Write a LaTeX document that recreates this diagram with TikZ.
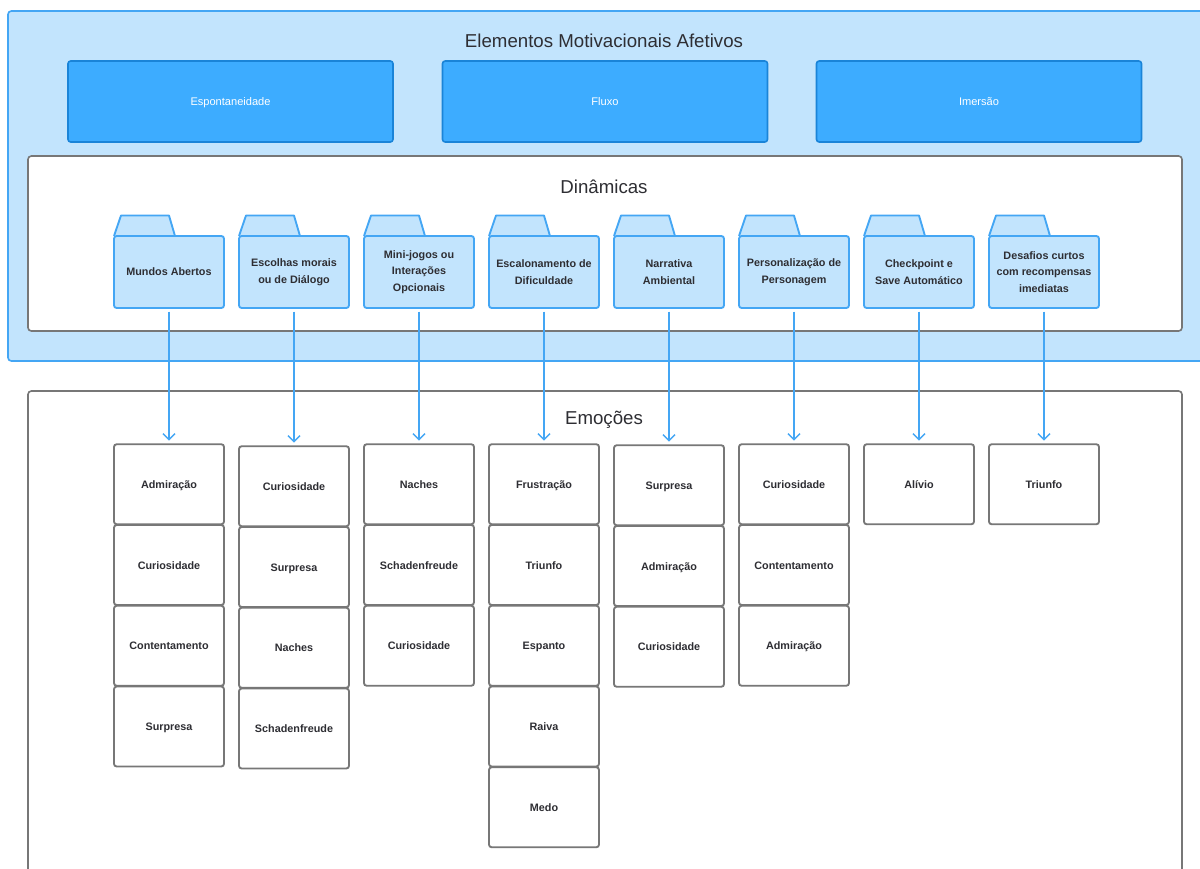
\documentclass[tikz,border=0pt]{standalone}
\usepackage{fontspec}
\setmainfont{Liberation Sans}
\usetikzlibrary{arrows.meta}
\definecolor{panelblue}{HTML}{C2E4FD}
\definecolor{edgeblue}{HTML}{44A6F4}
\definecolor{cardblue}{HTML}{3DACFF}
\definecolor{cardedge}{HTML}{1A84D8}
\definecolor{frame}{HTML}{777777}
\definecolor{ink}{HTML}{2E2E33}
\begin{document}
\begin{tikzpicture}[x=0.75pt,y=-0.75pt,
  panel/.style={draw=edgeblue,fill=panelblue,line width=1.2pt,rounded corners=2.5pt},
  frameset/.style={draw=frame,fill=white,line width=1.2pt,rounded corners=2.5pt},
  title/.style={text=ink,font=\fontsize{14}{16}\selectfont},
  card/.style={draw=cardedge,fill=cardblue,line width=1.2pt,rounded corners=2pt,
    minimum width=243.75pt,minimum height=60.75pt,text=white,
    text height=6pt,text depth=0pt,
    font=\fontsize{8.3}{10}\selectfont},
  folder/.style={draw=edgeblue,fill=panelblue,line width=1.4pt,rounded corners=2pt,
    minimum width=82.5pt,minimum height=54pt,inner sep=1pt,align=center,text=ink,
    font=\bfseries\fontsize{8.1}{12.4}\selectfont},
  foldertab/.style={draw=edgeblue,fill=panelblue,line width=1.4pt,line join=round},
  emotion/.style={draw=frame,fill=white,line width=1.4pt,rounded corners=2pt,
    minimum width=82.5pt,minimum height=60pt,text=ink,
    text height=6pt,text depth=0pt,
    font=\bfseries\fontsize{8.1}{10}\selectfont},
  flow/.style={draw=edgeblue,line width=1.1pt,shorten <=2pt,shorten >=2pt,
    -{Straight Barb[length=4.5pt,width=9pt,line width=1.1pt]}}]
\useasboundingbox (0,0) rectangle (1200,868);
\clip (0,0) rectangle (1200,868);

% outer panel with the affective elements
\path[panel] (8,11) rectangle (1215,361);
\node[title] (ttop) at (604,41) {Elementos Motivacionais Afetivos};
\node[card] (c1) at (230.5,101.5) {Espontaneidade};
\node[card] (c2) at (605,101.5) {Fluxo};
\node[card] (c3) at (979,101.5) {Imersão};

% dynamics frame
\path[frameset] (28,156) rectangle (1182,331);
\node[title] (tdyn) at (604,187) {Dinâmicas};

% emotions frame
\path[frameset] (28,391) rectangle (1182,885);
\node[title] (temo) at (604,420) {Emoções};

% folders (dynamics)
\foreach \c/\x/\t in {
  1/169/{Mundos Abertos},
  2/294/{Escolhas morais\\ou de Diálogo},
  3/419/{Mini-jogos ou\\Interações\\Opcionais},
  4/544/{Escalonamento de\\Dificuldade},
  5/669/{Narrativa\\Ambiental},
  6/794/{Personalização de\\Personagem},
  7/919/{Checkpoint e\\Save Automático},
  8/1044/{Desafios curtos\\com recompensas\\imediatas}}{
  \path[foldertab] (\x-55,236) -- (\x-48,215.5) -- (\x+0,215.5) -- (\x+6,236);
  \node[folder] (f\c) at (\x,272) {\t};
}

% emotion stacks
\foreach \c/\x/\y/\list in {
  1/169/444/{Admiração,Curiosidade,Contentamento,Surpresa},
  2/294/446/{Curiosidade,Surpresa,Naches,Schadenfreude},
  3/419/444/{Naches,Schadenfreude,Curiosidade},
  4/544/444/{Frustração,Triunfo,Espanto,Raiva,Medo},
  5/669/445/{Surpresa,Admiração,Curiosidade},
  6/794/444/{Curiosidade,Contentamento,Admiração},
  7/919/444/{Alívio},
  8/1044/444/{Triunfo}}{
  \foreach \t [count=\r] in \list {
    \node[emotion] (e\c-\r) at ({\x},{\y+40.25+(\r-1)*80.75}) {\t};
  }
  \draw[flow] (f\c.south) -- (e\c-1.north);
}
\end{tikzpicture}
\end{document}
